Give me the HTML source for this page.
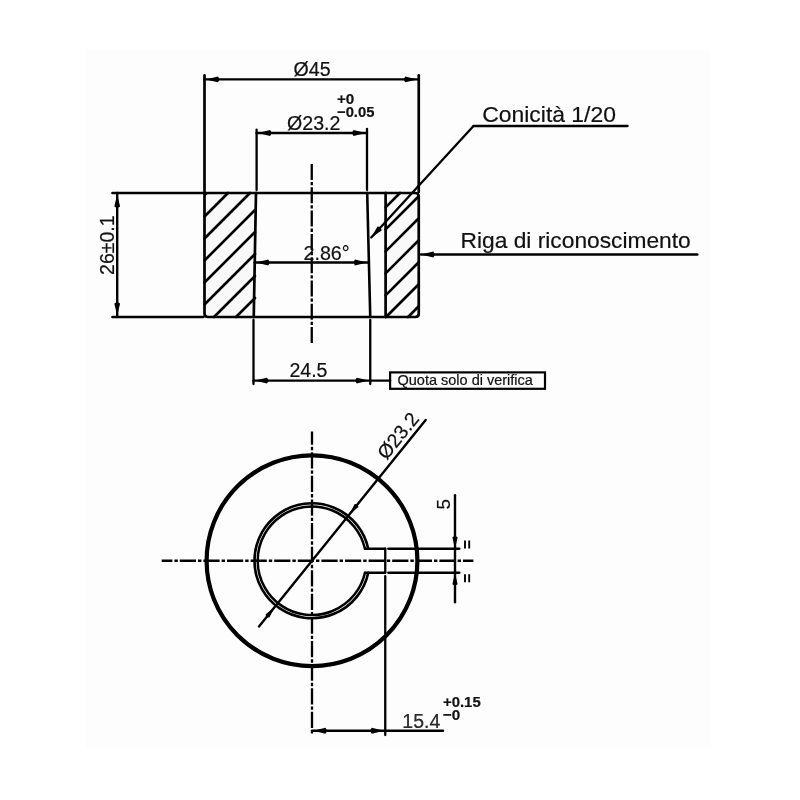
<!DOCTYPE html>
<html><head><meta charset="utf-8"><style>
html,body{margin:0;padding:0;background:#fff;width:800px;height:800px;overflow:hidden}
svg{display:block;filter:blur(0.35px)}
text{font-family:"Liberation Sans",sans-serif;fill:#111;stroke:#111;stroke-width:0.2px}
</style></head><body>
<svg width="800" height="800" viewBox="0 0 800 800">
<rect width="800" height="800" fill="#fff"/>
<rect x="86" y="49" width="625" height="698.5" fill="#fdfdfd"/>
<g stroke="#000" stroke-linecap="round" fill="none">
<path d="M204.5,193.0 L256,193.0 L253.75,317.0 L204.5,317.0 Z M385.6,193.0 L418.75,193.0 L418.75,317.0 L385.6,317.0 Z" fill="#f9f9f9" stroke="none"/>
<line x1="112.50" y1="193.00" x2="203.30" y2="193.00" stroke-width="2.7" />
<line x1="112.50" y1="317.00" x2="203.30" y2="317.00" stroke-width="2.7" />
<line x1="204.50" y1="75.30" x2="204.50" y2="192.00" stroke-width="2.7" />
<line x1="418.75" y1="75.30" x2="418.75" y2="192.00" stroke-width="2.7" />
<path d="M256.0,193.0 L208.0,193.0 Q204.5,193.0 204.5,196.5 L204.5,313.5 Q204.5,317.0 208.0,317.0 L253.75,317.0" stroke-width="2.7"/>
<path d="M256.0,193.0 L385.6,193.0 M370.25,317.0 L385.6,317.0 M253.75,317.0 L370.25,317.0" stroke-width="2.7"/>
<path d="M385.6,193.0 L415.25,193.0 Q418.75,193.0 418.75,196.5 L418.75,313.5 Q418.75,317.0 415.25,317.0 L385.6,317.0" stroke-width="2.7"/>
<line x1="256.00" y1="193.00" x2="253.75" y2="317.00" stroke-width="2.7" />
<line x1="367.20" y1="193.00" x2="370.25" y2="317.00" stroke-width="2.6" />
<line x1="385.60" y1="193.00" x2="385.60" y2="317.00" stroke-width="2.7" />
<line x1="204.50" y1="194.50" x2="206.00" y2="193.00" stroke-width="2.6" />
<line x1="204.50" y1="216.50" x2="228.00" y2="193.00" stroke-width="2.6" />
<line x1="204.50" y1="238.50" x2="250.00" y2="193.00" stroke-width="2.6" />
<line x1="204.50" y1="260.50" x2="255.00" y2="210.00" stroke-width="2.6" />
<line x1="204.50" y1="282.50" x2="255.00" y2="232.00" stroke-width="2.6" />
<line x1="204.50" y1="304.50" x2="255.00" y2="254.00" stroke-width="2.6" />
<line x1="214.00" y1="317.00" x2="255.00" y2="276.00" stroke-width="2.6" />
<line x1="236.00" y1="317.00" x2="255.00" y2="298.00" stroke-width="2.6" />
<line x1="385.60" y1="207.40" x2="400.00" y2="193.00" stroke-width="2.6" />
<line x1="385.60" y1="229.40" x2="418.75" y2="196.25" stroke-width="2.6" />
<line x1="385.60" y1="251.40" x2="418.75" y2="218.25" stroke-width="2.6" />
<line x1="385.60" y1="273.40" x2="418.75" y2="240.25" stroke-width="2.6" />
<line x1="385.60" y1="295.40" x2="418.75" y2="262.25" stroke-width="2.6" />
<line x1="386.00" y1="317.00" x2="418.75" y2="284.25" stroke-width="2.6" />
<line x1="408.00" y1="317.00" x2="418.75" y2="306.25" stroke-width="2.6" />
<line x1="256.60" y1="129.70" x2="256.60" y2="190.00" stroke-width="2.3" />
<line x1="367.00" y1="128.80" x2="367.00" y2="190.00" stroke-width="2.3" />
<line x1="253.50" y1="320.00" x2="253.50" y2="384.00" stroke-width="2.3" />
<line x1="370.25" y1="320.00" x2="370.25" y2="384.00" stroke-width="2.3" />
<line x1="204.50" y1="79.40" x2="418.75" y2="79.40" stroke-width="2.4" />
<path d="M205.70,79.40 L218.02,76.50 L219.70,79.40 L218.02,82.30 Z" fill="#000" stroke="none"/>
<path d="M417.55,79.40 L405.23,82.30 L403.55,79.40 L405.23,76.50 Z" fill="#000" stroke="none"/>
<text x="293.6" y="76.0" font-size="19.6" font-weight="normal" text-anchor="start" >Ø45</text>
<line x1="256.60" y1="133.00" x2="367.00" y2="133.00" stroke-width="2.4" />
<path d="M257.80,133.00 L270.12,130.10 L271.80,133.00 L270.12,135.90 Z" fill="#000" stroke="none"/>
<path d="M365.80,133.00 L353.48,135.90 L351.80,133.00 L353.48,130.10 Z" fill="#000" stroke="none"/>
<text x="287.0" y="129.8" font-size="19.6" font-weight="normal" text-anchor="start" >Ø23.2</text>
<text x="337" y="104.2" font-size="15.2" font-weight="bold" text-anchor="start" >+0</text>
<text x="337" y="116.8" font-size="14.8" font-weight="bold" text-anchor="start" >−0.05</text>
<line x1="117.20" y1="193.00" x2="117.20" y2="317.00" stroke-width="2.4" />
<path d="M117.20,194.20 L120.10,206.52 L117.20,208.20 L114.30,206.52 Z" fill="#000" stroke="none"/>
<path d="M117.20,315.80 L114.30,303.48 L117.20,301.80 L120.10,303.48 Z" fill="#000" stroke="none"/>
<text x="0" y="0" font-size="19.5" text-anchor="middle" transform="translate(113.8,245.2) rotate(-90)">26±0.1</text>
<line x1="311.75" y1="162.50" x2="311.75" y2="343.75" stroke-width="2.3" stroke-dasharray="16 2 3.3 2" stroke-dashoffset="21.8" stroke-linecap="butt"/>
<line x1="254.70" y1="262.50" x2="368.50" y2="262.50" stroke-width="2.4" />
<path d="M255.90,262.50 L268.22,259.60 L269.90,262.50 L268.22,265.40 Z" fill="#000" stroke="none"/>
<path d="M367.30,262.50 L354.98,265.40 L353.30,262.50 L354.98,259.60 Z" fill="#000" stroke="none"/>
<text x="303.5" y="260.0" font-size="19.7" font-weight="normal" text-anchor="start" >2.86°</text>
<line x1="253.50" y1="380.60" x2="390.10" y2="380.60" stroke-width="2.4" />
<path d="M254.70,380.60 L267.02,377.70 L268.70,380.60 L267.02,383.50 Z" fill="#000" stroke="none"/>
<path d="M369.05,380.60 L356.73,383.50 L355.05,380.60 L356.73,377.70 Z" fill="#000" stroke="none"/>
<text x="289.5" y="377.0" font-size="19.5" font-weight="normal" text-anchor="start" >24.5</text>
<rect x="390.1" y="372.4" width="154.9" height="16.4" fill="none" stroke-width="2.2"/>
<text x="397.5" y="385.2" font-size="14.5" font-weight="normal" text-anchor="start" >Quota solo di verifica</text>
<line x1="473.50" y1="126.00" x2="627.60" y2="126.00" stroke-width="2.3" />
<line x1="473.50" y1="126.00" x2="371.25" y2="237.50" stroke-width="2.3" />
<path d="M371.25,237.50 L377.44,226.46 L380.71,227.18 L381.71,230.38 Z" fill="#000" stroke="none"/>
<text x="482.3" y="121.8" font-size="22.9" font-weight="normal" text-anchor="start" >Conicità 1/20</text>
<line x1="421.00" y1="254.50" x2="697.30" y2="254.50" stroke-width="2.4" />
<path d="M421.00,254.50 L433.32,251.60 L435.00,254.50 L433.32,257.40 Z" fill="#000" stroke="none"/>
<text x="460.6" y="248.3" font-size="22.75" font-weight="normal" text-anchor="start" >Riga di riconoscimento</text>
<circle cx="312.0" cy="560.75" r="105.4" fill="none" stroke-width="4.2"/>
<path d="M368.23,548.75 A57.5,57.5 0 1 0 368.23,572.75" fill="none" stroke-width="2.6"/>
<path d="M364.96,548.75 A54.3,54.3 0 1 0 364.96,572.75" fill="none" stroke-width="2.5"/>
<line x1="365.03" y1="548.75" x2="385.25" y2="548.75" stroke-width="2.3" />
<line x1="365.03" y1="572.75" x2="385.25" y2="572.75" stroke-width="2.3" />
<line x1="385.25" y1="548.75" x2="385.25" y2="572.75" stroke-width="2.3" />
<line x1="388.25" y1="548.75" x2="459.40" y2="548.75" stroke-width="2.3" />
<line x1="388.25" y1="572.75" x2="459.40" y2="572.75" stroke-width="2.3" />
<line x1="385.25" y1="576.10" x2="385.25" y2="735.00" stroke-width="2.3" />
<line x1="161.70" y1="560.75" x2="473.40" y2="560.75" stroke-width="2.3" stroke-dasharray="16.2 2 3.4 2" stroke-dashoffset="5.5" stroke-linecap="butt"/>
<line x1="312.00" y1="431.40" x2="312.00" y2="735.00" stroke-width="2.3" stroke-dasharray="16.2 2 3.4 2" stroke-dashoffset="2.75" stroke-linecap="butt"/>
<line x1="425.68" y1="419.90" x2="258.99" y2="626.43" stroke-width="2.4" />
<path d="M349.37,514.45 L354.61,503.98 L357.53,504.33 L358.50,507.12 Z" fill="#000" stroke="none"/>
<path d="M274.63,607.05 L269.39,617.52 L266.47,617.17 L265.50,614.38 Z" fill="#000" stroke="none"/>
<text x="0" y="0" font-size="19.6" transform="translate(390.19,463.87) rotate(-51.09) translate(0,-4.8)">Ø23.2</text>
<line x1="455.00" y1="495.30" x2="455.00" y2="602.20" stroke-width="2.4" />
<path d="M455.00,548.75 L452.40,537.31 L455.00,535.75 L457.60,537.31 Z" fill="#000" stroke="none"/>
<path d="M455.00,572.75 L457.60,584.19 L455.00,585.75 L452.40,584.19 Z" fill="#000" stroke="none"/>
<text x="0" y="0" font-size="19" text-anchor="middle" transform="translate(450.3,504.2) rotate(-90)">5</text>
<line x1="465.00" y1="540.50" x2="465.00" y2="548.50" stroke-width="1.9" stroke-linecap="butt"/>
<line x1="469.20" y1="540.50" x2="469.20" y2="548.50" stroke-width="1.9" stroke-linecap="butt"/>
<line x1="465.00" y1="574.20" x2="465.00" y2="582.30" stroke-width="1.9" stroke-linecap="butt"/>
<line x1="469.20" y1="574.20" x2="469.20" y2="582.30" stroke-width="1.9" stroke-linecap="butt"/>
<line x1="312.00" y1="730.75" x2="443.00" y2="730.75" stroke-width="2.4" />
<path d="M313.20,730.75 L325.52,727.85 L327.20,730.75 L325.52,733.65 Z" fill="#000" stroke="none"/>
<path d="M384.05,730.75 L371.73,733.65 L370.05,730.75 L371.73,727.85 Z" fill="#000" stroke="none"/>
<text x="402.3" y="727.5" font-size="19.5" font-weight="normal" text-anchor="start" style="fill:#2a2a2a">15.4</text>
<text x="443.0" y="706.6" font-size="14.9" font-weight="bold" text-anchor="start" >+0.15</text>
<text x="443.0" y="719.6" font-size="15.2" font-weight="bold" text-anchor="start" >−0</text>
</g>
</svg>
</body></html>
